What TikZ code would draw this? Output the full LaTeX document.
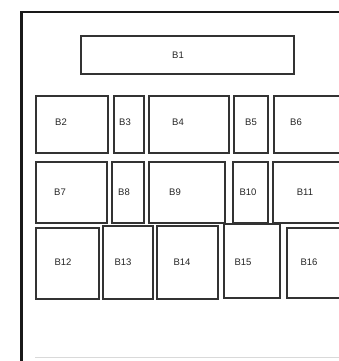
\documentclass[tikz,border=0pt]{standalone}
\usepackage{fontspec}
\setmainfont{Liberation Sans}
\begin{document}
\begin{tikzpicture}[x=1pt,y=-1pt,
  box/.style={draw=black!80,line width=1.8pt,rectangle,anchor=north west,inner sep=0pt},
  lbl/.style={text=black!85,font=\fontsize{9.5}{11}\selectfont,inner sep=0pt},
  frame/.style={draw=black!90,line width=2.4pt}]
\useasboundingbox (0,0) rectangle (339,361);
\fill[white] (0,0) rectangle (339,361);
\begin{scope}
\clip (0,0) rectangle (339,361);
\coordinate (ftl) at (21.5,12);
\coordinate (fbl) at (21.5,362);
\coordinate (ftr) at (342,12);
\draw[frame] (fbl) -- (ftl) -- (ftr);
\coordinate (bl) at (35,357);
\coordinate (br) at (339,357);
\draw[black!15,line width=0.8pt] (bl) -- (br);
% row 0
\node[box,minimum width=213pt,minimum height=38pt] (b1) at (80,35) {};
\node[lbl] (t1) at (178,55) {B1};
% row 1
\node[box,minimum width=72pt,minimum height=57pt] (b2) at (35,95) {};
\node[lbl] (t2) at (61,122) {B2};
\node[box,minimum width=30pt,minimum height=57pt] (b3) at (113,95) {};
\node[lbl] (t3) at (125,122) {B3};
\node[box,minimum width=80pt,minimum height=57pt] (b4) at (148,95) {};
\node[lbl] (t4) at (178,122) {B4};
\node[box,minimum width=34pt,minimum height=57pt] (b5) at (233,95) {};
\node[lbl] (t5) at (251,122) {B5};
\node[box,minimum width=67pt,minimum height=57pt] (b6) at (273,95) {};
\node[lbl] (t6) at (296,122) {B6};
% row 2
\node[box,minimum width=71pt,minimum height=61pt] (b7) at (35,161) {};
\node[lbl] (t7) at (60,192) {B7};
\node[box,minimum width=32pt,minimum height=61pt] (b8) at (111,161) {};
\node[lbl] (t8) at (124,192) {B8};
\node[box,minimum width=76pt,minimum height=61pt] (b9) at (148,161) {};
\node[lbl] (t9) at (175,192) {B9};
\node[box,minimum width=35pt,minimum height=61pt] (b10) at (232,161) {};
\node[lbl] (t10) at (248,192) {B10};
\node[box,minimum width=68pt,minimum height=61pt] (b11) at (272,161) {};
\node[lbl] (t11) at (305,192) {B11};
% row 3
\node[box,minimum width=63pt,minimum height=71pt] (b12) at (35,227) {};
\node[lbl] (t12) at (63,262) {B12};
\node[box,minimum width=50pt,minimum height=73pt] (b13) at (102,225) {};
\node[lbl] (t13) at (123,262) {B13};
\node[box,minimum width=61pt,minimum height=73pt] (b14) at (156,225) {};
\node[lbl] (t14) at (182,262) {B14};
\node[box,minimum width=56pt,minimum height=74pt] (b15) at (223,223) {};
\node[lbl] (t15) at (243,262) {B15};
\node[box,minimum width=54pt,minimum height=70pt] (b16) at (286,227) {};
\node[lbl] (t16) at (309,262) {B16};
\end{scope}
\end{tikzpicture}
\end{document}
